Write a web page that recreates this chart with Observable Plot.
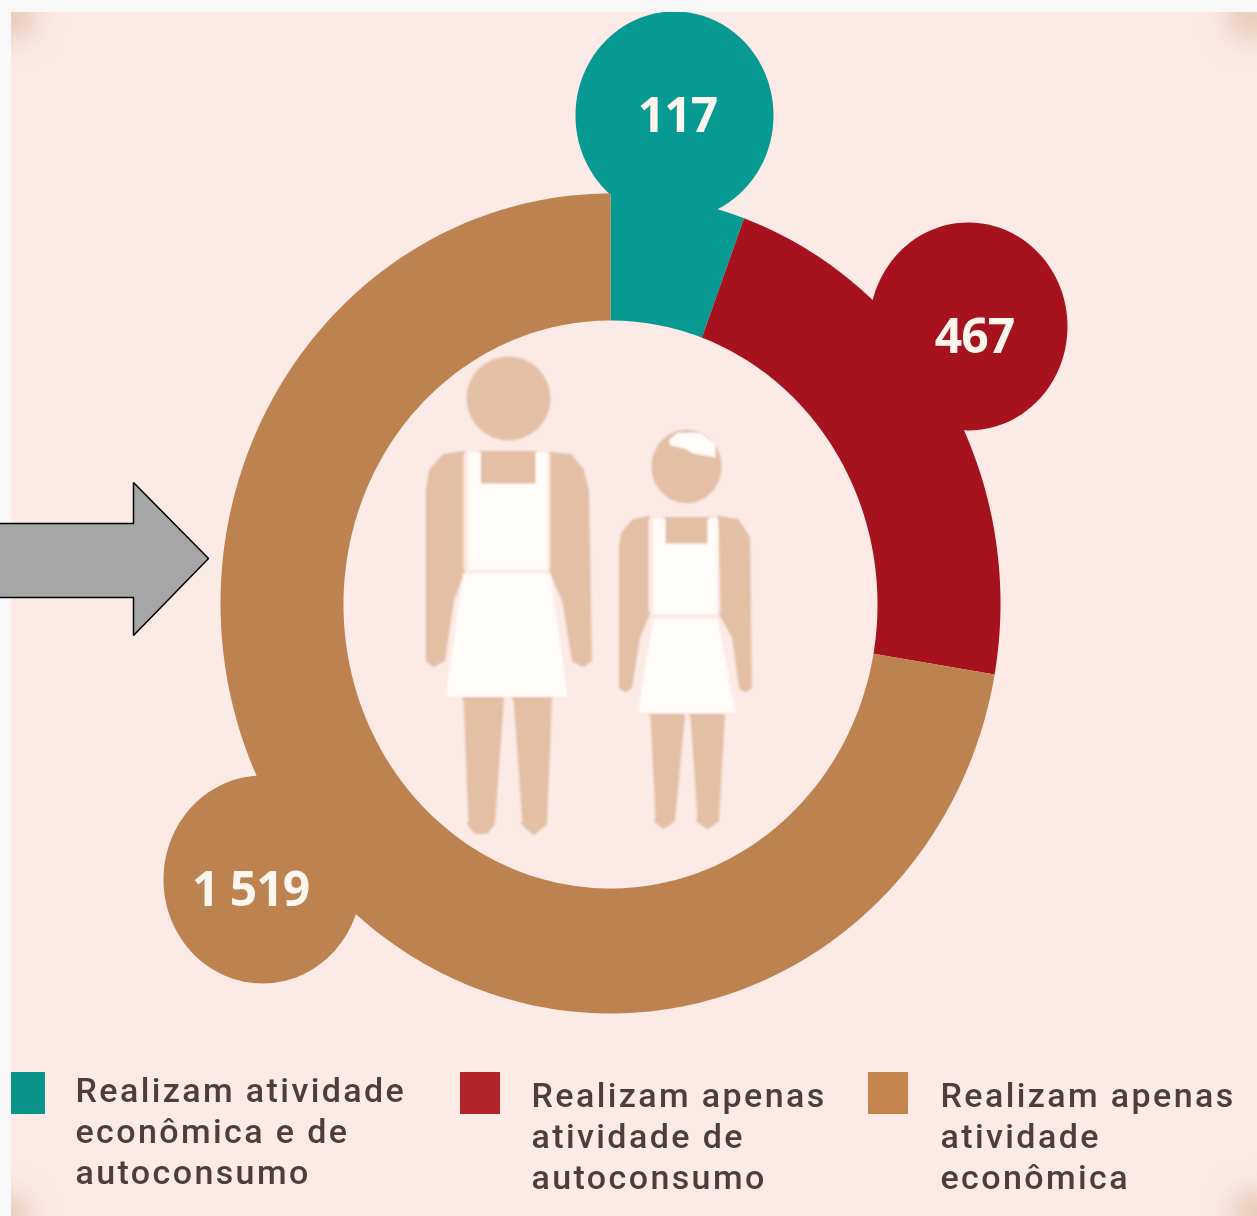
<!DOCTYPE html>
<html lang="pt">
<head>
<meta charset="utf-8">
<title>Realizam atividade econômica e de autoconsumo</title>
<script src="https://cdn.jsdelivr.net/npm/d3@7"></script>
<script src="https://cdn.jsdelivr.net/npm/@observablehq/plot@0.6"></script>
<style>
  html, body { margin: 0; padding: 0; background: #f8f8f8; overflow: hidden; }
  svg { display: block; }
  .soft { filter: blur(0.8px); }
  .corner { filter: blur(14px); }
  .legend-text { filter: blur(0.7px); letter-spacing: 2.4px; }
  .value-text { filter: blur(0.7px); letter-spacing: -1px; }
</style>
</head>
<body>
<div id="chart"></div>
<script>
// ---- data ----
const categories = [
  "Realizam atividade econômica e de autoconsumo",
  "Realizam apenas atividade de autoconsumo",
  "Realizam apenas atividade econômica"
];
const values = [117, 467, 1519];
const valueLabels = ["117", "467", "1 519"];
const legendLabels = [
  "Realizam atividade\neconômica e de\nautoconsumo",
  "Realizam apenas\natividade de\nautoconsumo",
  "Realizam apenas\natividade\neconômica"
];
const sliceColors = ["#069a93", "#a6131f", "#bc8350"];
const swatchColors = ["#0a948a", "#b3232b", "#c4854c"];

// ---- layout (picture coordinates) ----
const W = 1257, H = 1216;
const ring = {cx: 610, cy: 603, outerX: 390, outerY: 410, innerX: 267, innerY: 284};
const bubbleAt = [[674, 115], [968, 326], [262, 879]];
const labelAt = [[677, 116], [974, 337], [250, 890]];
const swatchAt = [[11, 45], [460, 500], [868, 908]];
const legendAt = [[75, 1073], [531, 1078], [940, 1078]];

const rows = categories.map((category, i) => ({category, value: values[i], label: valueLabels[i], legend: legendLabels[i], i}));

// sector outlines derived from the values
const pie = d3.pie().sort(null).value(d => d.value)(rows);
const sectorPoints = pie.flatMap(({data, startAngle, endAngle}) => {
  const n = Math.ceil((endAngle - startAngle) * 60);
  const at = d3.range(n + 1).map(k => startAngle + (endAngle - startAngle) * k / n);
  return [
    ...at.map(a => ({category: data.category, x: ring.cx + ring.outerX * Math.sin(a), y: ring.cy - ring.outerY * Math.cos(a)})),
    ...at.reverse().map(a => ({category: data.category, x: ring.cx + ring.innerX * Math.sin(a), y: ring.cy + 1 - ring.innerY * Math.cos(a)}))
  ];
});

// slightly tall bubble, as in the stretched original
const tallCircle = {
  draw(context, size) {
    const r = Math.sqrt(size / Math.PI), ry = r * 1.05, k = 0.5523;
    context.moveTo(r, 0);
    context.bezierCurveTo(r, k * ry, k * r, ry, 0, ry);
    context.bezierCurveTo(-k * r, ry, -r, k * ry, -r, 0);
    context.bezierCurveTo(-r, -k * ry, -k * r, -ry, 0, -ry);
    context.bezierCurveTo(k * r, -ry, r, -k * ry, r, 0);
    context.closePath();
  }
};

// ---- decorative shapes ----
const polys = (list) => list.flatMap((pts, id) => pts.map(([x, y]) => ({id, x, y})));
const skin = polys([
  // adult arms, chest, legs
  [[463,452],[443,455],[430,470],[427,490],[427,660],[433,665],[443,660],[452,600],[463,570]],
  [[550,453],[570,455],[582,470],[587,490],[590,660],[582,665],[573,660],[563,600],[550,570]],
  [[480,452],[535,452],[535,485],[480,485]],
  [[463,698],[502,698],[493,823],[486,832],[475,832],[468,823]],
  [[513,698],[550,698],[545,823],[533,833],[522,823]],
  // child arms, chest, legs
  [[648,517],[633,520],[622,533],[620,547],[620,687],[625,690],[630,687],[638,637],[648,613]],
  [[718,517],[737,520],[748,537],[750,687],[745,690],[740,687],[733,637],[720,613]],
  [[664,518],[708,518],[708,545],[664,545]],
  [[650,715],[683,715],[673,820],[663,827],[655,820]],
  [[690,715],[723,715],[717,820],[707,827],[697,820]]
]);
const dress = polys([
  // adult straps, bodice, skirt
  [[468,452],[480,452],[480,485],[468,485]],
  [[535,452],[547,452],[547,485],[535,485]],
  [[468,483],[547,483],[547,569],[468,569]],
  [[463,573],[550,573],[567,696],[445,696]],
  // child straps, bodice, skirt
  [[653,518],[665,518],[665,545],[653,545]],
  [[707,518],[717,518],[717,545],[707,545]],
  [[653,543],[717,543],[717,614],[653,614]],
  [[653,618],[717,618],[735,712],[637,712]],
  // child's hair band
  [[668,440],[677,432],[700,432],[715,443],[715,457],[693,453],[683,448],[670,445]]
]);
const adultHead = [{x: 508, y: 398}];
const childHead = [{x: 686, y: 466}];
const arrow = [[-4,523],[133,523],[133,482],[208,558],[133,635],[133,597],[-4,597]].map(([x, y]) => ({x, y}));
const corners = [{x: 12, y: 16}, {x: 1250, y: 16}, {x: 6, y: 1216}, {x: 1255, y: 1212}];

const shape = (d, opts) => Plot.line(d, {x: "x", y: "y", z: "id", ...opts});
const strip = (x1, x2, y1, y2) => Plot.rect([{x1, x2, y1, y2}], {x1: "x1", x2: "x2", y1: "y1", y2: "y2", fill: "#f8f8f8"});

const chart = Plot.plot({
  width: W, height: H,
  margin: 0,
  style: {background: "transparent", overflow: "hidden"},
  x: {domain: [0, W], range: [0, W], axis: null},
  y: {domain: [0, H], range: [0, H], axis: null},
  color: {domain: categories, range: sliceColors},
  marks: [
    // panel
    Plot.rect([{x1: 11, x2: W, y1: 12, y2: H}], {x1: "x1", x2: "x2", y1: "y1", y2: "y2", fill: "#fceae6"}),
    Plot.dot(corners, {x: "x", y: "y", r: 22, fill: "#e4c3ae", className: "corner"}),

    // bubbles and ring
    Plot.dot(rows, {
      x: d => bubbleAt[d.i][0], y: d => bubbleAt[d.i][1],
      r: 99, symbol: tallCircle, fill: "category"
    }),
    Plot.line(sectorPoints, {x: "x", y: "y", z: "category", fill: "category", stroke: "none"}),

    // people in the centre
    shape(skin, {fill: "#e3bfa6", stroke: "#e3bfa6", strokeWidth: 3, strokeLinejoin: "round", className: "soft"}),
    Plot.dot(adultHead, {x: "x", y: "y", r: 42, fill: "#e3bfa6", className: "soft"}),
    Plot.dot(childHead, {x: "x", y: "y", r: 35, symbol: tallCircle, fill: "#e3bfa6", className: "soft"}),
    shape(dress, {fill: "#fffcfa", stroke: "none", className: "soft"}),

    // page strips outside the panel
    strip(0, W, 0, 12),
    strip(0, 11, 0, H),

    // value labels
    Plot.text(rows, {
      x: d => labelAt[d.i][0], y: d => labelAt[d.i][1], text: "label",
      fill: "#fdf6ee", fontSize: 48, fontWeight: 700, fontFamily: "Open Sans", className: "value-text"
    }),

    // legend
    Plot.rect(rows, {
      x1: d => swatchAt[d.i][0], x2: d => swatchAt[d.i][1],
      y1: 1072, y2: 1114, fill: (d, i) => swatchColors[i]
    }),
    Plot.text(rows, {
      x: d => legendAt[d.i][0], y: d => legendAt[d.i][1], text: "legend",
      textAnchor: "start", lineAnchor: "top", lineHeight: 1.2,
      fill: "#4a3f3c", fontSize: 34, fontWeight: 500, fontFamily: "Roboto", className: "legend-text"
    }),

    // arrow
    Plot.line(arrow.concat(arrow[0]), {x: "x", y: "y", fill: "#a6a6a6", stroke: "#000", strokeWidth: 1.5, strokeLinejoin: "miter"})
  ]
});
document.getElementById("chart").append(chart);
</script>
</body>
</html>
